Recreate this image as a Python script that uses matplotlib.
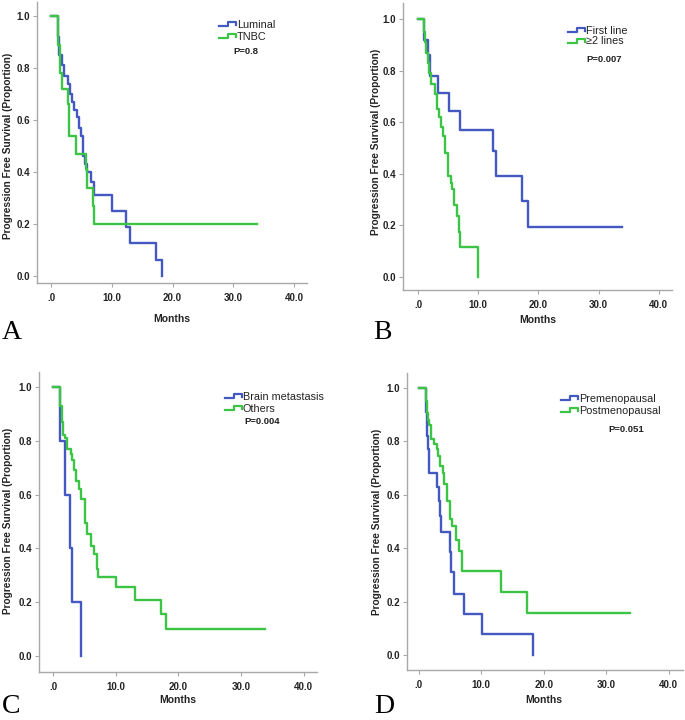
import matplotlib
matplotlib.use("Agg")
import matplotlib.pyplot as plt
from matplotlib.lines import Line2D

plt.rcParams["font.family"] = ["Liberation Sans", "DejaVu Sans"]

# ============================================
# Dados
# ============================================

# Painel A - Luminal x TNBC
a_luminal_t = [0, 1.1, 1.3, 1.8, 2.2, 2.8, 3.2, 3.5, 3.8, 4.2, 4.6, 4.9, 5.2, 5.6, 6.0, 6.5, 7.0, 10.0, 12.4, 13.0, 17.3, 18.3]
a_luminal_s = [1.0, 0.92, 0.85, 0.81, 0.77, 0.74, 0.70, 0.67, 0.64, 0.61, 0.57, 0.54, 0.46, 0.43, 0.40, 0.36, 0.31, 0.25, 0.19, 0.125, 0.0625, 0.0]
a_tnbc_t = [0, 1.1, 1.5, 1.8, 2.8, 3.0, 4.1, 5.7, 6.0, 6.9, 7.0, 33.9]
a_tnbc_s = [1.0, 0.89, 0.78, 0.72, 0.66, 0.54, 0.47, 0.41, 0.34, 0.27, 0.20, 0.20]

# Painel B - First line x >=2 lines
b_first_t = [0, 1.05, 1.6, 2.0, 3.3, 5.2, 7.0, 12.5, 13.0, 17.3, 18.2, 33.9]
b_first_s = [1.0, 0.92, 0.86, 0.78, 0.714, 0.643, 0.571, 0.49, 0.392, 0.294, 0.196, 0.196]
b_second_t = [0, 1.05, 1.2, 1.4, 1.6, 1.8, 2.2, 2.8, 3.15, 3.5, 3.8, 4.1, 4.5, 5.0, 5.4, 5.6, 6.0, 6.5, 6.85, 7.0, 10.0]
b_second_s = [1.0, 0.95, 0.91, 0.87, 0.83, 0.79, 0.75, 0.71, 0.65, 0.62, 0.58, 0.545, 0.48, 0.39, 0.365, 0.34, 0.28, 0.235, 0.175, 0.117, 0.0]

# Painel C - Brain metastasis x Others
c_brain_t = [0, 1.17, 1.86, 2.76, 2.97, 4.4]
c_brain_s = [1.0, 0.8, 0.6, 0.4, 0.2, 0.0]
c_others_t = [0, 1.06, 1.4, 1.6, 1.9, 2.2, 2.86, 3.1, 3.35, 3.7, 4.1, 4.4, 5.1, 5.5, 6.05, 6.5, 6.95, 7.1, 10.0, 13.05, 17.2, 18.1, 33.8]
c_others_s = [1.0, 0.93, 0.87, 0.82, 0.81, 0.77, 0.75, 0.73, 0.69, 0.65, 0.62, 0.585, 0.495, 0.453, 0.408, 0.38, 0.323, 0.294, 0.256, 0.207, 0.154, 0.10, 0.10]

# Painel D - Premenopausal x Postmenopausal
d_pre_t = [0, 1.07, 1.28, 1.44, 1.6, 2.88, 3.15, 3.4, 3.6, 5.0, 5.2, 5.65, 7.15, 10.1, 18.25]
d_pre_s = [1.0, 0.91, 0.82, 0.77, 0.68, 0.63, 0.578, 0.52, 0.46, 0.385, 0.31, 0.23, 0.154, 0.077, 0.0]
d_post_t = [0, 1.07, 1.28, 1.5, 1.7, 2.0, 2.4, 2.88, 3.1, 3.45, 3.8, 4.1, 4.5, 5.0, 5.3, 5.9, 6.35, 6.95, 13.1, 17.3, 33.8]
d_post_s = [1.0, 0.95, 0.906, 0.88, 0.86, 0.81, 0.79, 0.77, 0.744, 0.706, 0.68, 0.64, 0.575, 0.51, 0.485, 0.43, 0.39, 0.315, 0.236, 0.157, 0.157]

x_ticks = [0, 10, 20, 30, 40]
x_labels = [".0", "10.0", "20.0", "30.0", "40.0"]
y_ticks = [0.0, 0.2, 0.4, 0.6, 0.8, 1.0]
y_labels = ["0.0", "0.2", "0.4", "0.6", "0.8", "1.0"]

AZUL = "#4358c0"
VERDE = "#3cc444"
CINZA = "#a8a8a8"

W, H = 685, 720
fig = plt.figure(figsize=(W / 100, H / 100), dpi=100)


def fx(x):
    return x / W


def fy(y):
    return 1 - y / H


def painel(caixa, xlim, ylim, curvas, legenda, p_txt, p_pos, letra, letra_pos, months_pos, ylab_pos):
    esq, dir_, topo, base = caixa
    ax = fig.add_axes([fx(esq), fy(base), fx(dir_ - esq), (base - topo) / H])
    for t, s, cor in curvas:
        ax.step(t, s, where="post", color=cor, lw=1.7)
    ax.set_xlim(*xlim)
    ax.set_ylim(*ylim)
    ax.set_xticks(x_ticks)
    ax.set_xticklabels(x_labels)
    ax.set_yticks(y_ticks)
    ax.set_yticklabels(y_labels)
    for lado in ["top", "right"]:
        ax.spines[lado].set_visible(False)
    for lado in ["left", "bottom"]:
        ax.spines[lado].set_color(CINZA)
        ax.spines[lado].set_linewidth(1.0)
    ax.tick_params(axis="both", length=3, width=0.8, color=CINZA, labelsize=7, pad=2)
    ax.tick_params(axis="x", pad=4)
    for lab in ax.get_xticklabels() + ax.get_yticklabels():
        lab.set_fontweight("bold")
        lab.set_color("#222222")

    # legenda com o símbolo em degrau
    for (x0, y0, nome), cor in zip(legenda, [AZUL, VERDE]):
        xs = [x0, x0 + 9, x0 + 9, x0 + 17, x0 + 17]
        ys = [y0, y0, y0 - 4, y0 - 4, y0 - 1]
        fig.add_artist(Line2D([fx(v) for v in xs], [fy(v) for v in ys], color=cor, lw=1.6,
                              transform=fig.transFigure))
        fig.text(fx(x0 + 18), fy(y0 - 1.5), nome, fontsize=7.8, va="center", ha="left", color="#222222")
    fig.text(fx(p_pos[0]), fy(p_pos[1]), p_txt, fontsize=6.8, fontweight="bold", va="center", ha="left",
             color="#222222")

    fig.text(fx(months_pos[0]), fy(months_pos[1]), "Months", fontsize=7.5, fontweight="bold",
             ha="center", va="center", color="#222222")
    fig.text(fx(ylab_pos[0]), fy(ylab_pos[1]), "Progression Free Survival (Proportion)", fontsize=7.3,
             fontweight="bold", rotation=90, ha="center", va="center", color="#222222")
    fig.text(fx(letra_pos[0]), fy(letra_pos[1]), letra, fontsize=20, family="Liberation Serif",
             ha="left", va="baseline")
    return ax


painel((37, 307, 2, 283), (-2.3, 42.1), (-0.027, 1.054),
       [(a_luminal_t, a_luminal_s, AZUL), (a_tnbc_t, a_tnbc_s, VERDE)],
       [(219, 26, "Luminal"), (219, 38, "TNBC")], "P=0.8", (233, 52),
       "A", (2, 339), (172, 319), (8, 146))

painel((403, 672, 3, 290), (-2.5, 42.2), (-0.05, 1.062),
       [(b_first_t, b_first_s, AZUL), (b_second_t, b_second_s, VERDE)],
       [(568, 32, "First line"), (568, 43, "\u22652 lines")], "P=0.007", (586, 59),
       "B", (373, 339), (538, 320), (376, 142))

painel((39, 317, 372, 672), (-2.23, 42.1), (-0.06, 1.056),
       [(c_brain_t, c_brain_s, AZUL), (c_others_t, c_others_s, VERDE)],
       [(225, 398, "Brain metastasis"), (225, 410, "Others")], "P=0.004", (244, 422),
       "C", (2, 713), (178, 700), (8, 521))

painel((407, 683, 373, 670), (-1.9, 42.3), (-0.056, 1.056),
       [(d_pre_t, d_pre_s, AZUL), (d_post_t, d_post_s, VERDE)],
       [(561, 400, "Premenopausal"), (561, 412, "Postmenopausal")], "P=0.051", (608, 430),
       "D", (374, 713), (544, 700), (377, 522))

fig.savefig("out.png", dpi=100)
